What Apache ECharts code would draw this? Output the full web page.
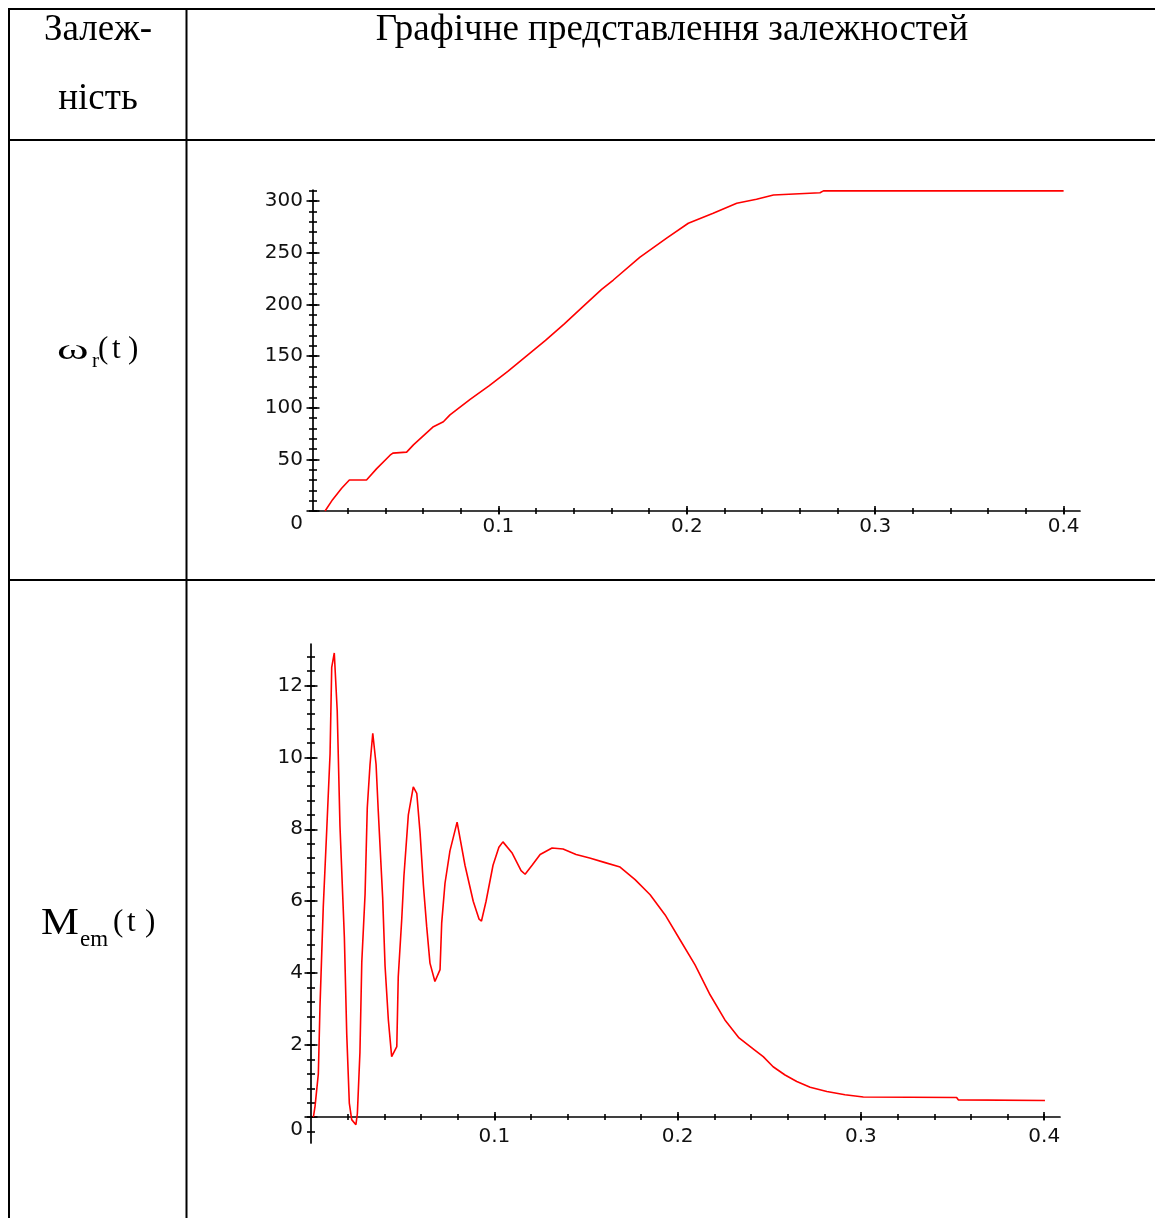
<!DOCTYPE html>
<html><head><meta charset="utf-8">
<script src="https://cdn.jsdelivr.net/npm/echarts@6/dist/echarts.min.js"></script>
<style>html,body{margin:0;padding:0;background:#fff}#c{width:1155px;height:1218px}</style>
</head><body><div id="c"></div>
<script>
// ---- ω_r(t) ----
const omegaT = [0.008, 0.012, 0.0168, 0.0209, 0.030, 0.0354, 0.0425, 0.044, 0.0513, 0.0549,
  0.0655, 0.0708, 0.0743, 0.085, 0.095, 0.105, 0.115, 0.125, 0.135, 0.145,
  0.1548, 0.161, 0.175, 0.1893, 0.2008, 0.214, 0.2265, 0.237, 0.246, 0.2707,
  0.2725, 0.30, 0.35, 0.40];
const omegaV = [0, 11, 22, 30, 30, 41, 54, 56, 57, 64,
  81.6, 86.4, 93, 108, 121, 135, 150, 165, 181, 198,
  214.5, 223.5, 245.5, 264, 278.4, 288, 297.8, 301.6, 305.8, 308,
  309.8, 309.8, 309.8, 309.8];
// ---- M_em(t) ----
const memT = [0.0013, 0.0022, 0.0040, 0.0049, 0.0067, 0.0086, 0.0104, 0.0113, 0.0127, 0.0143,
  0.0158, 0.0182, 0.0195, 0.0209, 0.0222, 0.0245, 0.0253, 0.0267, 0.0277, 0.0295,
  0.0307, 0.0322, 0.0337, 0.0355, 0.0367, 0.0391, 0.0404, 0.0422, 0.0440, 0.0468,
  0.0476, 0.0495, 0.0507, 0.0531, 0.0558, 0.0577, 0.0595, 0.0613, 0.0631, 0.0649,
  0.0676, 0.0704, 0.0713, 0.0731, 0.0758, 0.0797, 0.0840, 0.0885, 0.0917, 0.0930,
  0.0955, 0.0993, 0.1025, 0.1047, 0.1096, 0.1146, 0.1168, 0.1206, 0.1250, 0.1315,
  0.1375, 0.1446, 0.1520, 0.1600, 0.1686, 0.1768, 0.1850, 0.1932, 0.2013, 0.2095,
  0.2177, 0.2258, 0.2335, 0.2419, 0.2467, 0.2521, 0.2586, 0.2650, 0.2723, 0.2814,
  0.2913, 0.3013, 0.3522, 0.3531, 0.4004];
const memV = [0, 0.3, 1.2, 3.07, 5.85, 8.0, 10.1, 12.5, 12.9, 11.3,
  8.1, 5.0, 2.3, 0.39, -0.07, -0.21, 0.1, 1.8, 4.3, 6.2,
  8.6, 9.8, 10.67, 9.8, 8.5, 6.1, 4.2, 2.7, 1.68, 1.96,
  3.9, 5.5, 6.7, 8.4, 9.18, 9.0, 7.9, 6.45, 5.3, 4.28,
  3.77, 4.1, 5.4, 6.5, 7.4, 8.2, 7.0, 6.0, 5.5, 5.45,
  6.0, 7.0, 7.5, 7.65, 7.35, 6.85, 6.75, 7.0, 7.3, 7.48,
  7.45, 7.3, 7.2, 7.08, 6.95, 6.6, 6.18, 5.62, 4.93, 4.23,
  3.4, 2.7, 2.2, 1.87, 1.68, 1.4, 1.17, 0.99, 0.83, 0.71,
  0.62, 0.56, 0.545, 0.48, 0.46];

// ---- tick labels ----
const tLabels = [0.1, 0.2, 0.3, 0.4];
const omegaLabels = [0, 50, 100, 150, 200, 250, 300];
const memLabels = [0, 2, 4, 6, 8, 10, 12];

// ---- tick positions ----
function steps(a, b, s) { const r = []; for (let k = Math.round(a / s); k * s <= b + 1e-9; k++) r.push(+(k * s).toFixed(4)); return r; }
const tMajor = tLabels;
const tMinor = steps(0.02, 0.4, 0.02);
const omegaMajor = omegaLabels;
const omegaMinor = steps(0, 310, 10);
const memMajor = memLabels;
const memMinor = steps(-0.4, 12.8, 0.4);

const headerLeft1 = 'Залеж-';
const headerLeft2 = 'ність';
const headerRight = 'Графічне представлення залежностей';

const AX = '#000';
const labelFont = { fontFamily: 'DejaVu Sans', fontSize: 20, color: '#111' };

function axes(dim, gridIndex, min, max, major, minor, labels, margin, lens) {
  const common = { type: 'value', gridIndex, min, max, position: dim === 'x' ? 'bottom' : 'left', splitLine: { show: false } };
  const ts = { color: AX, width: 1.6 };
  const lab = Object.assign({ show: true, customValues: labels, margin: margin }, labelFont);
  if (dim === 'y') {
    lab.formatter = v => (v === 0 ? '{z|0}' : String(v));
    lab.rich = { z: Object.assign({ padding: [25, 0, 0, 0] }, labelFont) };
  } else {
    lab.formatter = v => String(+(+v).toFixed(2));
  }
  return [
    Object.assign({}, common, { axisLine: { show: true, onZero: true, lineStyle: { color: AX, width: 1.7 } },
      axisTick: { show: true, inside: false, length: lens[0], customValues: major, lineStyle: ts }, axisLabel: lab }),
    Object.assign({}, common, { axisLine: { show: false, onZero: true },
      axisTick: { show: true, inside: true, length: lens[1], customValues: major, lineStyle: ts }, axisLabel: { show: false } }),
    Object.assign({}, common, { axisLine: { show: false, onZero: true },
      axisTick: { show: true, inside: false, length: lens[2], customValues: minor, lineStyle: ts }, axisLabel: { show: false } }),
    Object.assign({}, common, { axisLine: { show: false, onZero: true },
      axisTick: { show: true, inside: true, length: lens[3], customValues: minor, lineStyle: ts }, axisLabel: { show: false } })
  ];
}

const xAxes = [].concat(
  axes('x', 0, 0.0016, 0.4087, tMajor, tMinor, tLabels, 5.5, [3.5, 5, 3, 3]),
  axes('x', 1, 0, 0.4086, tMajor, tMinor, tLabels, -16, [3.5, 5, 3, 3])
);
const yAxes = [].concat(
  axes('y', 0, 0, 310.6, omegaMajor, omegaMinor, omegaLabels, 10, [6.5, 6.5, 4, 4]),
  axes('y', 1, -0.72, 13.15, memMajor, memMinor, memLabels, 8, [6.5, 6.5, 4, 4])
);

const serif = 'Liberation Serif';
function mid(baseline, fs) { return baseline - 0.34 * fs + 4; }
function txt(text, x, baseline, fs, opts) {
  return Object.assign({ type: 'text', x: x, y: mid(baseline, fs), silent: true,
    style: { text: text, x: 0, y: 0, fontFamily: serif, fontSize: fs, fill: '#000', align: 'left', verticalAlign: 'middle' } }, opts || {});
}
function ctxt(text, x, baseline, fs) {
  return { type: 'text', silent: true, x: x, y: mid(baseline, fs),
    style: { text: text, x: 0, y: 0, fontFamily: serif, fontSize: fs, fill: '#000', align: 'center', verticalAlign: 'middle' } };
}
function hline(y) { return { type: 'line', silent: true, shape: { x1: 8, y1: y, x2: 1155, y2: y }, style: { stroke: '#000', lineWidth: 2 } }; }
function vline(x) { return { type: 'line', silent: true, shape: { x1: x, y1: 8, x2: x, y2: 1218 }, style: { stroke: '#000', lineWidth: 2 } }; }

const graphics = [
  hline(9), hline(140), hline(580), vline(9), vline(186.5),
  ctxt(headerLeft1, 98, 39.3, 37),
  ctxt(headerLeft2, 98, 108, 37),
  ctxt(headerRight, 672, 39.3, 37),
  // ω_r(t)
  txt('ω', 57, 357.3, 30, { scaleX: 1.6 }),
  txt('r', 92, 365, 21),
  txt('(', 98, 356, 31),
  txt('t', 112, 356, 31),
  txt(')', 128, 356, 31),
  // M_em(t)
  txt('M', 41, 933.3, 38, { scaleX: 1.12 }),
  txt('em', 80, 943.3, 23),
  txt('(', 113, 929, 31),
  txt('t', 127, 929, 31),
  txt(')', 145, 929, 31)
];

const chart = echarts.init(document.getElementById('c'), null, { renderer: 'canvas' });
chart.setOption({
  animation: false,
  backgroundColor: '#fff',
  grid: [
    { left: 313, top: 190, width: 767, height: 321, outerBoundsMode: 'none' },
    { left: 311, top: 644, width: 749, height: 499, outerBoundsMode: 'none' }
  ],
  xAxis: xAxes,
  yAxis: yAxes,
  series: [
    { type: 'line', xAxisIndex: 0, yAxisIndex: 0, showSymbol: false, symbol: 'none',
      lineStyle: { color: '#ff0000', width: 1.6 }, data: omegaT.map((t, i) => [t, omegaV[i]]) },
    { type: 'line', xAxisIndex: 4, yAxisIndex: 4, showSymbol: false, symbol: 'none',
      lineStyle: { color: '#ff0000', width: 1.6 }, data: memT.map((t, i) => [t, memV[i]]) }
  ],
  graphic: graphics
});
</script>
</body></html>
